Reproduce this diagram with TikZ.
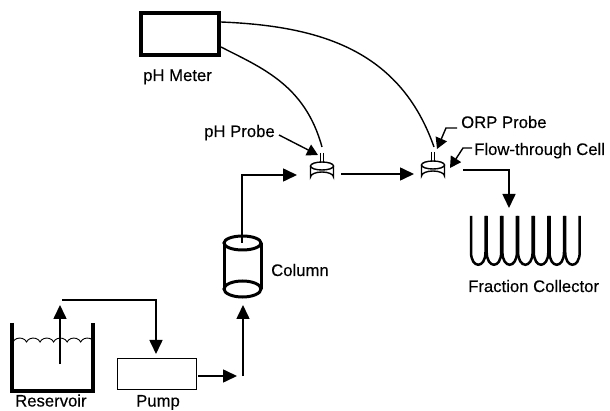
\documentclass[tikz,border=0pt]{standalone}
\usepackage{fontspec}
\setmainfont[FakeBold=0.25]{Liberation Sans}
\usetikzlibrary{arrows.meta}
\tikzset{
  x=1pt,y=-1pt,
  lbl/.style={inner sep=0pt,font=\fontsize{16.7}{17}\selectfont,anchor=base west,text=black},
  flow/.style={line width=1.6pt,-{Triangle[length=14pt,width=13pt]}},
  lead/.style={line width=1.4pt,-{Triangle[length=11pt,width=12pt]}},
  wire/.style={line width=1.4pt},
  meter/.style={draw,line width=4.4pt,minimum width=78pt,minimum height=42pt,inner sep=0pt},
  pumpbox/.style={draw,line width=0.7pt,minimum width=79pt,minimum height=31pt,inner sep=0pt},
  cellbody/.style={line width=1.4pt},
}
\newcommand{\flowcell}[2]{%
  \draw[cellbody] (#1-11.5,#2-10) -- (#1-11.5,#2+1) arc[start angle=180,end angle=360,x radius=11.5,y radius=5] -- (#1+11.5,#2-10);
  \draw[cellbody] (#1,#2-10) ellipse[x radius=11.5,y radius=4];
  \draw[line width=0.9pt] (#1-1.6,#2-23) -- (#1-1.6,#2-14) (#1+1.6,#2-23) -- (#1+1.6,#2-14);
}
\begin{document}
\begin{tikzpicture}
\useasboundingbox (0,0) rectangle (610,411);
% pH meter
\node[meter] (meter) at (180,34) {};
\coordinate (mA) at (221,22);
\coordinate (mB) at (221,47);
\node[lbl] (tMeter) at (143,81) {pH Meter};
% cells
\flowcell{322}{176}
\flowcell{433}{175}
\coordinate (pHtop) at (322,147);
\coordinate (ORPtop) at (434,147);
\draw[wire] (mB) .. controls (262,68) and (305,85) .. (pHtop);
\draw[wire] (mA) .. controls (320,26) and (400,50) .. (ORPtop);
% probe labels
\node[lbl] (tpH) at (204,137) {pH Probe};
\coordinate (pHtip) at (318,155);
\coordinate (pHa) at (279,135);
\draw[lead] (pHa) -- (pHtip);
\node[lbl] (tORP) at (461,128) {ORP Probe};
\coordinate (oa) at (457,128);
\coordinate (ob) at (446,128);
\coordinate (otip) at (437,149);
\draw[lead] (oa) -- (ob) -- (otip);
\node[lbl] (tFlow) at (474,155) {Flow-through Cell};
\coordinate (fa) at (472,148);
\coordinate (fb) at (463,148);
\coordinate (ftip) at (450,168);
\draw[lead] (fa) -- (fb) -- (ftip);
% flows
\coordinate (c1) at (242,243);
\coordinate (c2) at (242,175);
\coordinate (t1) at (297,175);
\draw[flow] (c1) -- (c2) -- (t1);
\coordinate (e1) at (341,174);
\coordinate (e2) at (414,174);
\draw[flow] (e1) -- (e2);
\coordinate (x1) at (463,170);
\coordinate (x2) at (509,170);
\coordinate (x3) at (509,208);
\draw[flow] (x1) -- (x2) -- (x3);
% fraction collector
\foreach \i in {0,...,6}{
  \pgfmathsetmacro{\xa}{471+15.7*\i}
  \pgfmathsetmacro{\xb}{\xa+14.5}
  \draw[line width=2.5pt,line cap=butt] (\xa,216) -- (\xa,252) .. controls (\xa,269) and (\xb,269) .. (\xb,252) -- (\xb,216);
}
\node[lbl] (tFrac) at (468,292) {Fraction Collector};
% column
\draw[line width=3pt] (224,243) -- (224,289) (261,243) -- (261,289);
\draw[line width=3pt] (242.5,243) ellipse[x radius=18.5,y radius=7];
\draw[line width=3pt] (242.5,289) ellipse[x radius=18.5,y radius=8];
\node[lbl] (tCol) at (271,276) {Column};
% reservoir
\draw[line width=3.2pt,line join=miter] (12,323) -- (12,391) -- (93,391) -- (93,323);
\draw[line width=0.9pt] (13,342) arc[start angle=200,end angle=340,x radius=7.2,y radius=6]
  \foreach \k in {1,...,5}{ arc[start angle=200,end angle=340,x radius=7.2,y radius=6] };
\node[lbl] (tRes) at (15,406.5) {Reservoir};
% pump
\node[pumpbox] (pump) at (156.5,373.5) {};
\node[lbl] (tPump) at (136,406.5) {Pump};
% pipe arrows
\coordinate (r1) at (60,364);
\coordinate (r2) at (60,305);
\draw[flow] (r1) -- (r2);
\coordinate (p1) at (62,300);
\coordinate (p2) at (156,300);
\coordinate (p3) at (156,354);
\draw[flow] (p1) -- (p2) -- (p3);
\coordinate (q1) at (198,376);
\coordinate (q2) at (237,376);
\draw[flow] (q1) -- (q2);
\coordinate (s1) at (243,376);
\coordinate (s2) at (243,305);
\draw[flow] (s1) -- (s2);
\end{tikzpicture}
\end{document}
